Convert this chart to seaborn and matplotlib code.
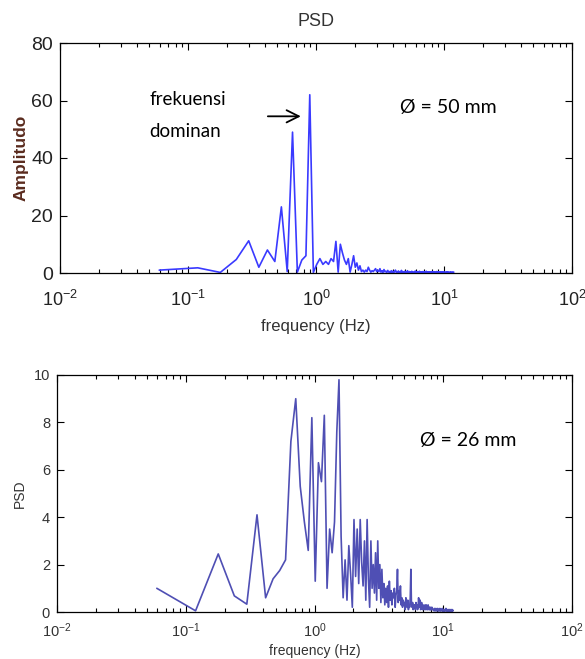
import numpy as np
import pandas as pd
import matplotlib
matplotlib.use("Agg")
import matplotlib.pyplot as plt
import seaborn as sns
from matplotlib.ticker import LogLocator, NullFormatter, FixedLocator

# ---------------- data ----------------
FREQ_STEP = 0.0596  # Hz, spectral bin width of both PSDs

amp_50mm = [
    1.0, 1.8, 0.2, 4.7, 11.2, 2.0, 8.0, 4.0, 23, 0.5, 49, 0.3, 4.5, 6, 62, 0.2,
    3, 5, 3, 4, 3, 5, 4, 11, 0.3, 10, 7, 4.5, 3, 5,
    0.3, 3, 6, 2, 3.5, 1, 2.5, 0.5, 1, 0.3, 1, 0.5, 2, 1, 0.3, 0.8, 0.5, 1, 1.5, 0.5, 1,
    0.5, 1.5, 0.3, 0.8, 0.2, 1.2, 0.4, 0.6, 0.2, 0.9, 0.3, 0.5, 0.1, 0.8, 0.3, 0.6, 0.2, 0.4, 1.0,
    0.3, 0.5, 0.2, 0.7, 0.1, 0.4, 0.3, 0.9, 0.2, 0.5, 0.1, 0.3, 0.6, 0.2, 0.4, 0.1, 0.8, 0.3, 0.2, 0.5,
    0.1, 0.3, 0.2, 0.6, 0.1, 0.4, 0.2, 0.3, 0.1, 0.7,
    0.2, 0.4, 0.1, 0.3, 0.5, 0.2, 0.1, 0.6, 0.3, 0.2, 0.4, 0.1, 0.3, 0.2, 0.5, 0.1, 0.2, 0.4, 0.1, 0.3,
    0.2, 0.6, 0.1, 0.3, 0.2, 0.4, 0.1, 0.2, 0.3, 0.1,
    0.4, 0.2, 0.1, 0.3, 0.2, 0.5, 0.1, 0.2, 0.3, 0.1, 0.4, 0.2, 0.1, 0.3, 0.2, 0.1, 0.5, 0.2, 0.1, 0.3,
    0.2, 0.4, 0.1, 0.2, 0.3, 0.1, 0.2, 0.4, 0.1, 0.2,
    0.3, 0.1, 0.2, 0.3, 0.1, 0.4, 0.2, 0.1, 0.3, 0.2, 0.1, 0.2, 0.3, 0.1, 0.2, 0.4, 0.1, 0.2, 0.3, 0.1,
    0.2, 0.1, 0.3, 0.2, 0.1, 0.2, 0.3, 0.1, 0.2, 0.1,
    0.3, 0.2, 0.1, 0.2, 0.3, 0.1, 0.2, 0.1, 0.2, 0.3,
]

psd_26mm = [
    1.0, 0.05, 2.45, 0.68, 0.33, 4.1, 0.6, 1.4, 1.75, 2.2, 7.2, 9.0, 5.3, 3.8, 2.6,
    8.2, 1.3, 6.3, 5.5, 8.3, 1.0, 3.5, 2.5, 3.8, 7.6, 9.8, 3.2, 0.6, 2.2, 0.5,
    2.8, 1.6, 0.2, 3.9, 1.5, 3.5, 1.2, 3.9, 2.1, 1.1, 3.0, 0.5, 3.9, 1.4, 0.2, 3.0, 1.0, 2.0,
    0.8, 2.5, 0.5, 3.0, 1.0, 2.0, 0.4, 1.8, 0.6, 1.2, 0.3, 1.0,
    0.4, 1.1, 0.2, 1.3, 0.5, 0.9, 0.3, 0.8, 0.6, 1.0, 0.2, 0.7, 0.9, 1.8, 0.4, 0.9, 0.5, 1.1, 0.3, 0.6,
    0.2, 0.5, 0.3, 0.4, 0.1, 0.6, 0.3, 0.2, 0.5, 0.1, 0.3, 0.2, 0.6, 1.8, 0.3, 0.2, 0.4, 0.1, 0.3, 0.2,
    0.3, 0.1, 0.4, 0.2, 0.3, 0.1, 0.2, 0.6, 0.3, 0.2, 0.5, 0.1, 0.3, 0.4, 0.2, 0.1, 0.3, 0.2, 0.1, 0.2,
    0.3, 0.1, 0.2, 0.3, 0.1, 0.2, 0.1, 0.3, 0.2, 0.1, 0.2, 0.1, 0.1, 0.2, 0.1, 0.1, 0.2, 0.1, 0.1, 0.1,
    0.1, 0.05, 0.15, 0.1, 0.05, 0.1, 0.15, 0.05, 0.1, 0.1, 0.05, 0.15, 0.1, 0.05, 0.1,
    0.05, 0.1, 0.15, 0.05, 0.1, 0.05, 0.1, 0.1, 0.05, 0.15, 0.05, 0.1, 0.05, 0.1, 0.05,
    0.1, 0.05, 0.1, 0.05, 0.1, 0.15, 0.05, 0.1, 0.05, 0.1, 0.05, 0.1, 0.05, 0.1, 0.05,
    0.1, 0.05, 0.1, 0.05, 0.1, 0.05, 0.05, 0.1, 0.05, 0.1, 0.05, 0.05, 0.1, 0.05, 0.05,
]

top_yticks = [0, 20, 40, 60, 80]
bottom_yticks = [0, 2, 4, 6, 8, 10]
x_limits = (1e-2, 1e2)

top_df = pd.DataFrame({"freq": FREQ_STEP * np.arange(1, len(amp_50mm) + 1), "amp": amp_50mm})
bot_df = pd.DataFrame({"freq": FREQ_STEP * np.arange(1, len(psd_26mm) + 1), "psd": psd_26mm})

# ---------------- style ----------------
sns.set_style("white")
plt.rcParams["font.family"] = ["Liberation Sans", "DejaVu Sans"]
SANS = ["Liberation Sans", "DejaVu Sans"]
CAL = ["Lato", "DejaVu Sans"]

fig = plt.figure(figsize=(5.85, 6.59), dpi=100)
ax1 = fig.add_axes([60 / 585, 1 - 273 / 659, 512 / 585, 230 / 659])
ax2 = fig.add_axes([57 / 585, 1 - 612 / 659, 515 / 585, 237 / 659])

sns.lineplot(data=top_df, x="freq", y="amp", ax=ax1, color="#3a3aff",
             linewidth=1.2, estimator=None, sort=False)
sns.lineplot(data=bot_df, x="freq", y="psd", ax=ax2, color="#4f4fb4",
             linewidth=1.2, estimator=None, sort=False)


def style_axes(ax, yticks, xfs, yfs, xpad, tick_color):
    ax.set_xscale("log")
    ax.set_xlim(*x_limits)
    ax.set_ylim(yticks[0], yticks[-1])
    ax.yaxis.set_major_locator(FixedLocator(yticks))
    ax.xaxis.set_major_locator(LogLocator(base=10, numticks=10))
    ax.xaxis.set_minor_locator(LogLocator(base=10, subs=np.arange(2, 10), numticks=100))
    ax.xaxis.set_minor_formatter(NullFormatter())
    for sp in ax.spines.values():
        sp.set_visible(True)
        sp.set_color("black")
        sp.set_linewidth(0.9)
    ax.tick_params(which="both", direction="in", top=True, right=True,
                   bottom=True, left=True, color="black", width=0.8)
    ax.tick_params(which="major", length=5)
    ax.tick_params(which="minor", length=3)
    ax.tick_params(axis="x", which="major", pad=xpad, labelsize=xfs, labelcolor=tick_color)
    ax.tick_params(axis="y", which="major", pad=5, labelsize=yfs, labelcolor=tick_color)
    ax.grid(False)


style_axes(ax1, top_yticks, 13, 14, 12, "#222222")
style_axes(ax2, bottom_yticks, 10.5, 10.5, 6.5, "#333333")

# labels - top
ax1.set_title("PSD", fontsize=13, color="#333333", pad=12)
ax1.set_xlabel("frequency (Hz)", fontsize=12, color="#333333", labelpad=7)
ax1.set_ylabel("Amplitudo", fontsize=12.5, fontweight="bold", color="#5a2b1e", labelpad=2)

# labels - bottom
ax2.set_xlabel("frequency (Hz)", fontsize=10, color="#333333", labelpad=3)
ax2.set_ylabel("PSD", fontsize=10, color="#333333", labelpad=5)

# annotations
ax1.text(0.05, 54.8, "frekuensi\ndominan", fontsize=13.5, family=CAL, color="black",
         ha="left", va="center", linespacing=2.1)
ax1.annotate("", xy=(0.80, 54.5), xytext=(0.40, 54.5),
             arrowprops=dict(arrowstyle="->", color="black", lw=1.3, mutation_scale=22))
ax1.text(4.5, 57.5, "Ø = 50 mm", fontsize=14, family=CAL, color="black",
         ha="left", va="center")
ax2.text(6.6, 7.25, "Ø = 26 mm", fontsize=14, family=CAL, color="black",
         ha="left", va="center")

fig.savefig("out.png", dpi=100, facecolor="white")
